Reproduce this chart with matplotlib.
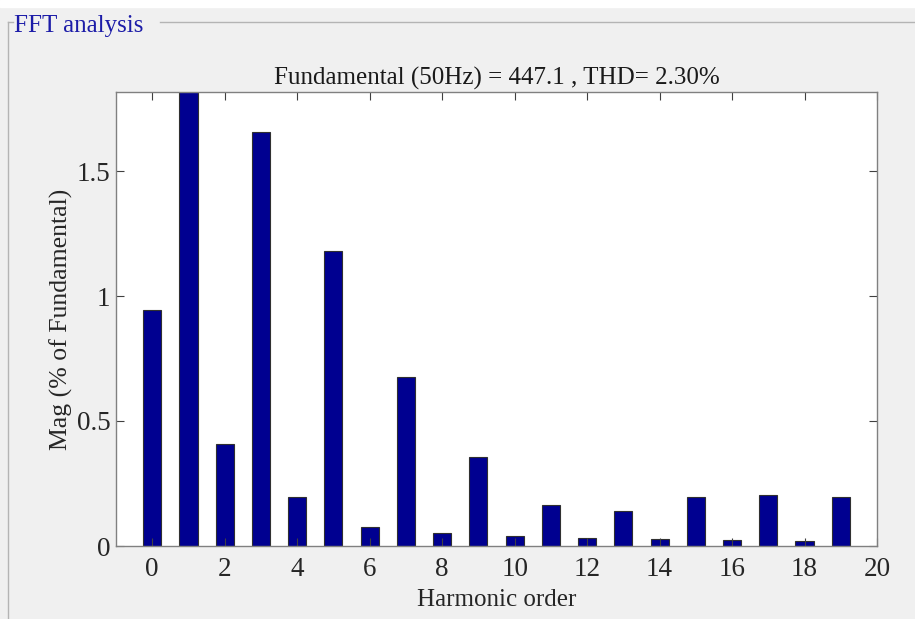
import matplotlib.pyplot as plt
from matplotlib.lines import Line2D

# harmonic magnitudes in % of fundamental (order 1 = fundamental, clipped)
orders = list(range(20))
mag = [0.944, 100.0, 0.408, 1.656, 0.196, 1.18, 0.076, 0.676, 0.052, 0.356,
       0.04, 0.164, 0.032, 0.14, 0.028, 0.196, 0.024, 0.204, 0.02, 0.196]
xticks = list(range(0, 21, 2))
yticks = [0, 0.5, 1, 1.5]
ytick_labels = ['0', '0.5', '1', '1.5']

plt.rcParams['font.family'] = ['Liberation Serif', 'DejaVu Serif']

W, H = 915, 619
fig = plt.figure(figsize=(W / 100, H / 100), dpi=100, facecolor='#f0f0f0')

# white strip at the very top and the panel border
fig.patches.append(plt.Rectangle((0, 1 - 7 / H), 1, 7 / H, transform=fig.transFigure,
                                 color='white', zorder=0))
edge = '#b4b4b4'
yl = 1 - 22 / H
fig.lines.append(Line2D([8 / W, 8 / W], [0, yl], transform=fig.transFigure, color=edge, lw=1))
fig.lines.append(Line2D([8 / W, 13 / W], [yl, yl], transform=fig.transFigure, color=edge, lw=1))
fig.lines.append(Line2D([160 / W, 1], [yl, yl], transform=fig.transFigure, color=edge, lw=1))
fig.text(14 / W, 1 - 32 / H, 'FFT analysis', color='#1c1ca8', fontsize=18,
         va='baseline', ha='left')

ax = fig.add_axes([116 / W, 1 - 546 / H, (877 - 116) / W, (546 - 92) / H])
ax.bar(orders, mag, width=0.5, color='#000090', edgecolor='#303030', linewidth=0.8)

ax.set_xlim(-1, 20)
ax.set_ylim(0, 1.816)
ax.set_xticks(xticks)
ax.set_yticks(yticks)
ax.set_yticklabels(ytick_labels)
ax.tick_params(direction='in', length=6, width=0.8, color='#404040', labelsize=19.5,
               labelcolor='#262626', top=True, right=True)
ax.tick_params(axis='x', pad=8)
ax.tick_params(axis='y', pad=4)
for s in ax.spines.values():
    s.set_color('#808080')
    s.set_linewidth(1)

ax.set_title('Fundamental (50Hz) = 447.1 , THD= 2.30%', fontsize=18, color='#1a1a1a', pad=5)
ax.set_xlabel('Harmonic order', fontsize=18, color='#262626', labelpad=5)
ax.set_ylabel('Mag (% of Fundamental)', fontsize=18.5, color='#262626', labelpad=3)

fig.savefig('out.png', dpi=100, facecolor=fig.get_facecolor())
